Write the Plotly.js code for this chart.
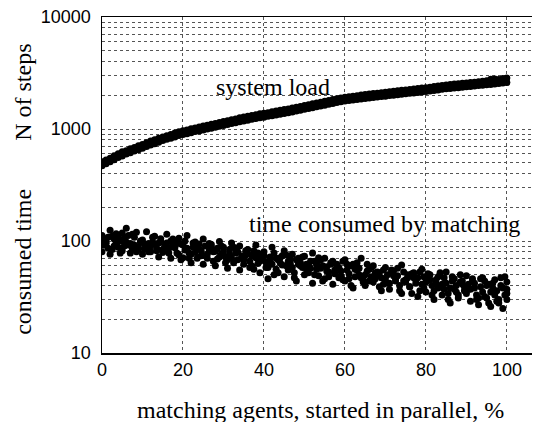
<!DOCTYPE html>
<html>
<head>
<meta charset="utf-8">
<script src="https://cdn.plot.ly/plotly-3.0.1.min.js"></script>
<style>html,body{margin:0;padding:0;background:#fff;}#chart{width:534px;height:422px;}</style>
</head>
<body>
<div id="chart"></div>
<script>
// matching agents started in parallel, % (0..100)
const pct = Array.from({length: 101}, (_, i) => i);
const pctMid = pct.map(v => Math.min(v + 0.5, 100));

// system load (N of steps), upper and lower edge of the dense band
const loadA = [510,530,548,578,600,625,640,668,685,708,
  728,752,780,800,828,850,870,895,920,945,
  965,980,1005,1020,1040,1062,1080,1105,1120,1145,
  1165,1185,1210,1230,1260,1280,1300,1320,1340,1365,
  1385,1400,1425,1445,1470,1490,1510,1540,1565,1590,
  1620,1650,1680,1710,1735,1770,1800,1830,1860,1890,
  1925,1945,1965,1985,2010,2030,2050,2070,2090,2110,
  2130,2155,2175,2195,2215,2235,2255,2280,2300,2320,
  2340,2365,2390,2425,2450,2475,2495,2520,2540,2560,
  2580,2600,2620,2640,2665,2690,2780,2800,2760,2820,
  2850];
const loadB = [470,490,510,532,556,575,598,615,635,652,
  672,698,720,740,762,788,808,826,850,874,
  895,908,925,948,962,978,1000,1018,1038,1058,
  1075,1095,1120,1140,1160,1180,1200,1220,1240,1258,
  1275,1298,1315,1335,1355,1372,1398,1420,1445,1470,
  1500,1522,1550,1580,1605,1630,1660,1690,1720,1750,
  1775,1795,1815,1835,1850,1870,1890,1910,1930,1950,
  1965,1990,2005,2025,2045,2065,2085,2100,2120,2140,
  2160,2185,2210,2235,2260,2285,2305,2320,2340,2360,
  2380,2400,2420,2440,2460,2480,2500,2520,2550,2580,
  2600];

// time consumed by matching (four runs)
const timeA = [112,98,125,104,88,118,130,95,108,84,
  102,121,90,110,96,79,115,100,87,106,
  92,112,76,98,85,104,70,93,81,99,
  88,68,96,78,90,62,84,74,92,66,
  80,58,88,70,64,82,55,76,68,60,
  73,52,78,62,57,70,48,66,59,54,
  68,46,62,55,70,50,44,60,53,47,
  58,42,54,49,61,45,39,52,47,56,
  43,50,36,48,41,53,38,46,33,44,
  49,37,42,31,47,40,35,45,30,38,
  43];
const timeB = [92,108,84,116,100,90,112,86,120,97,
  85,95,108,82,99,92,86,104,78,94,
  83,70,96,88,74,90,82,66,86,77,
  72,84,64,80,70,75,58,82,63,76,
  65,72,50,68,61,75,63,52,70,58,
  62,57,66,49,60,54,64,51,58,45,
  55,60,48,57,43,54,58,46,52,41,
  50,55,44,40,53,47,51,42,36,48,
  51,40,45,39,47,34,44,40,50,36,
  41,46,33,39,44,28,42,36,47,33,
  37];
const timeC = [80,95,76,90,110,82,98,78,92,88,
  76,88,80,94,72,84,96,70,90,75,
  71,86,64,79,94,62,76,88,60,72,
  80,57,70,86,55,68,77,60,71,52,
  74,46,62,56,71,48,66,58,44,64,
  50,61,42,56,68,46,53,41,62,49,
  44,51,38,64,47,40,56,43,50,36,
  46,37,49,57,34,43,39,47,32,41,
  35,45,30,38,33,42,28,37,31,41,
  34,29,38,27,35,31,26,33,28,25,
  30];
const timeD = [102,86,110,96,78,106,92,115,80,100,
  94,80,98,86,105,88,78,92,96,68,
  100,78,88,70,82,74,95,80,69,90,
  64,76,88,68,74,82,66,56,78,70,
  58,66,78,52,74,60,70,47,62,72,
  56,66,50,71,44,59,62,55,47,66,
  62,40,56,50,45,62,48,52,39,55,
  42,52,46,36,44,50,34,45,53,38,
  47,33,42,52,37,30,48,35,43,39,
  37,44,30,46,32,41,38,29,40,48,
  34];

const xTicks = [0, 20, 40, 60, 80, 100];
const yDecades = [10, 100, 1000, 10000];
const yDecadeLabels = ['10', '100', '1000', '10000'];

const yGridVals = [];
const yGridText = [];
yDecades.forEach((d, k) => {
  const last = k === yDecades.length - 1;
  for (let m = 1; m <= (last ? 1 : 9); m++) {
    yGridVals.push(d * m);
    yGridText.push(m === 1 ? yDecadeLabels[k] : '');
  }
});

const mk = (sz) => ({color: '#000', size: sz, symbol: 'circle', line: {width: 0}});
const traces = [
  {x: pct, y: loadA, type: 'scatter', mode: 'markers', marker: mk(7), hoverinfo: 'skip'},
  {x: pct, y: loadB, type: 'scatter', mode: 'markers', marker: mk(7), hoverinfo: 'skip'},
  {x: pct, y: timeA, type: 'scatter', mode: 'markers', marker: mk(7), hoverinfo: 'skip'},
  {x: pctMid, y: timeB, type: 'scatter', mode: 'markers', marker: mk(7), hoverinfo: 'skip'},
  {x: pct, y: timeC, type: 'scatter', mode: 'markers', marker: mk(7), hoverinfo: 'skip'},
  {x: pctMid, y: timeD, type: 'scatter', mode: 'markers', marker: mk(7), hoverinfo: 'skip'}
];

const serif = 'Liberation Serif, Times New Roman, serif';
const sans = 'Liberation Sans, Arial, sans-serif';

const layout = {
  width: 534, height: 422,
  margin: {l: 102, r: 2, t: 17, b: 69},
  paper_bgcolor: '#fff', plot_bgcolor: '#fff',
  showlegend: false,
  xaxis: {
    range: [0, 106.2], tickvals: xTicks, ticktext: xTicks.map(String),
    showgrid: true, gridcolor: '#555', griddash: 'dot', gridwidth: 1,
    showline: true, linecolor: '#000', linewidth: 1.5, mirror: true,
    ticks: '', zeroline: false,
    tickfont: {family: sans, size: 18, color: '#000'}
  },
  yaxis: {
    type: 'log', range: [1, 4],
    tickvals: yGridVals, ticktext: yGridText,
    showgrid: true, gridcolor: '#555', griddash: 'dot', gridwidth: 1,
    showline: true, linecolor: '#000', linewidth: 1.5,
    ticks: '', zeroline: false, ticklabelstandoff: 6,
    tickfont: {family: sans, size: 18, color: '#000'}
  },
  annotations: [
    {text: 'matching agents, started in parallel, %', xref: 'paper', yref: 'paper',
     x: 0.507, y: -0.17, xanchor: 'center', yanchor: 'middle', showarrow: false,
     font: {family: serif, size: 24, color: '#000'}},
    {text: 'N of steps', xref: 'paper', yref: 'paper', textangle: -90,
     x: -0.184, y: 0.777, xanchor: 'center', yanchor: 'middle', showarrow: false,
     font: {family: serif, size: 24, color: '#000'}},
    {text: 'consumed time', xref: 'paper', yref: 'paper', textangle: -90,
     x: -0.184, y: 0.271, xanchor: 'center', yanchor: 'middle', showarrow: false,
     font: {family: serif, size: 24, color: '#000'}},
    {text: 'system load', xref: 'paper', yref: 'paper',
     x: 0.398, y: 0.792, xanchor: 'center', yanchor: 'middle', showarrow: false,
     font: {family: serif, size: 24, color: '#000'}},
    {text: 'time consumed by matching', xref: 'paper', yref: 'paper',
     x: 0.658, y: 0.384, xanchor: 'center', yanchor: 'middle', showarrow: false,
     font: {family: serif, size: 24, color: '#000'}}
  ]
};

Plotly.newPlot('chart', traces, layout, {staticPlot: true, displayModeBar: false});
</script>
</body>
</html>
